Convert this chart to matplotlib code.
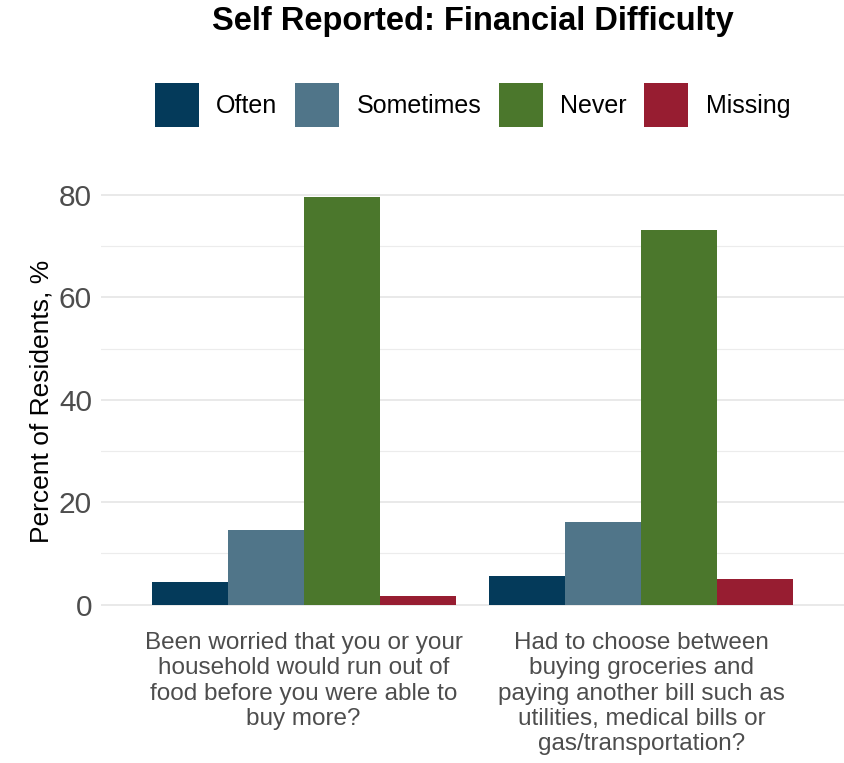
import matplotlib
matplotlib.use("Agg")
import matplotlib.pyplot as plt
import numpy as np

plt.rcParams['font.family'] = ['Liberation Sans', 'DejaVu Sans']

# Daten
questions = [
    "Been worried that you or your\nhousehold would run out of\nfood before you were able to\nbuy more?",
    "Had to choose between\nbuying groceries and\npaying another bill such as\nutilities, medical bills or\ngas/transportation?",
]
answers = ["Often", "Sometimes", "Never", "Missing"]
often = [4.4, 5.65]
sometimes = [14.5, 16.2]
never = [79.5, 73.1]
missing = [1.6, 5.05]
colors = ["#043a5a", "#507589", "#4b772c", "#971d31"]

series = [often, sometimes, never, missing]

fig = plt.figure(figsize=(8.44, 7.63), dpi=100)
ax = fig.add_axes([0.1197, 0.181, 0.8803, 0.587])

x = np.arange(1, len(questions) + 1)
w = 0.225
for i, vals in enumerate(series):
    ax.bar(x + (i - 1.5) * w, vals, width=w, color=colors[i], label=answers[i], zorder=3)

# Achsen
ax.set_xlim(0.4, 2.6)
ax.set_ylim(-3.97, 83.5)
ax.set_yticks([0, 20, 40, 60, 80])
ax.set_yticks([10, 30, 50, 70], minor=True)
ax.grid(axis="y", which="major", color="#e3e3e3", linewidth=1.1, zorder=0)
ax.grid(axis="y", which="minor", color="#ececec", linewidth=0.8, zorder=0)
ax.tick_params(axis="y", which="both", length=0, labelsize=21.5, labelcolor="#4d4d4d", pad=6.5)
ax.set_xticks(x)
ax.set_xticklabels(questions, fontsize=17.5, color="#4d4d4d", linespacing=1.2)
ax.tick_params(axis="x", length=0, pad=5)
for s in ax.spines.values():
    s.set_visible(False)
ax.set_ylabel("Percent of Residents, %", fontsize=19, color="black", labelpad=4)

fig.suptitle("Self Reported: Financial Difficulty", fontsize=23.5, fontweight="bold", x=0.56, y=0.992)

fig.legend(loc="center", bbox_to_anchor=(0.56, 0.862), ncol=4, frameon=False,
           fontsize=18, handlelength=1.76, handleheight=2.33, handletextpad=0.7,
           columnspacing=0.7)

plt.savefig("out.png", dpi=100)
